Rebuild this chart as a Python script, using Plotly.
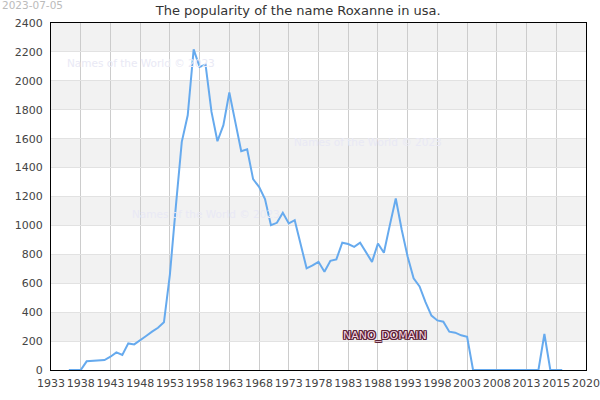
import plotly.graph_objects as go

years = list(range(1936, 2020))
values = [
    0, 0, 0, 60, 62, 64, 69, 92, 122, 104,          # 1936-1945
    184, 177, 203, 235, 265, 292, 330, 660, 1130, 1578,  # 1946-1955
    1762, 2218, 2096, 2112, 1785, 1582, 1693, 1919, 1716, 1513,  # 1956-1965
    1527, 1320, 1267, 1182, 1002, 1018, 1087, 1014, 1036, 870,  # 1966-1975
    703, 723, 748, 679, 755, 765, 880, 871, 852, 880,  # 1976-1985
    813, 748, 875, 811, 1002, 1186, 970, 783, 634, 578,  # 1986-1995
    470, 376, 343, 334, 265, 258, 240, 230, 0, 0,  # 1996-2005
    0, 0, 0, 0, 0, 0, 0, 0, 0, 0,  # 2006-2015
    249, 0, 0, 0,  # 2016-2019
]

x_tickvals = [1933, 1938, 1943, 1948, 1953, 1958, 1963, 1968, 1973, 1978,
              1983, 1988, 1993, 1998, 2003, 2008, 2013, 2018, 2023]
x_ticktext = ["1933", "1938", "1943", "1948", "1953", "1958", "1963", "1968", "1973", "1978",
              "1983", "1988", "1993", "1998", "2003", "2008", "2013", "2015", "2020"]
y_tickvals = list(range(0, 2401, 200))
band_ranges = [(200, 400), (600, 800), (1000, 1200), (1400, 1600), (1800, 2000), (2200, 2400)]

title_text = "The popularity of the name Roxanne in usa."
date_text = "2023-07-05"
watermark_text = "Names of the World © 2023"
domain_text = "NANO_DOMAIN"

FONT = "DejaVu Sans"

fig = go.Figure()
fig.add_trace(go.Scatter(
    x=years, y=values, mode="lines",
    line=dict(color="#66aaee", width=2),
    hoverinfo="skip", showlegend=False,
))

shapes = []
for lo, hi in band_ranges:
    shapes.append(dict(type="rect", xref="paper", yref="y", x0=0, x1=1, y0=lo, y1=hi,
                       fillcolor="#f2f2f2", line=dict(width=0), layer="below"))

annotations = []
for ax, ay in [(0.168, 0.885), (0.593, 0.657), (0.290, 0.450)]:
    annotations.append(dict(text=watermark_text, xref="paper", yref="paper", x=ax, y=ay,
                            xanchor="center", yanchor="middle", showarrow=False,
                            font=dict(family=FONT, size=10.5, color="#e9e9f5")))
annotations.append(dict(text=date_text, xref="paper", yref="paper", x=-0.0953, y=1.052,
                        xanchor="left", yanchor="middle", showarrow=False,
                        font=dict(family=FONT, size=10.5, color="#bbbbbb")))
outline = "#5a2034"
annotations.append(dict(text=domain_text, xref="paper", yref="paper", x=0.624, y=0.098,
                        xanchor="center", yanchor="middle", showarrow=False,
                        font=dict(family=FONT, size=11, color="#f3d6e2",
                                  shadow=f"1px 0 0 {outline}, -1px 0 0 {outline}, 0 1px 0 {outline}, 0 -1px 0 {outline}, 1px 1px 0 {outline}, -1px -1px 0 {outline}, 1px -1px 0 {outline}, -1px 1px 0 {outline}")))

fig.update_layout(
    width=600, height=400,
    margin=dict(l=51, r=14, t=23, b=30, pad=0, autoexpand=False),
    paper_bgcolor="white", plot_bgcolor="white",
    title=dict(text=title_text, x=0.497, xanchor="center", y=0.975, yanchor="middle",
               font=dict(family=FONT, size=13, color="#333333")),
    font=dict(family=FONT, size=11, color="#444444"),
    shapes=shapes, annotations=annotations,
    xaxis=dict(range=[1933, 2023], tickmode="array", tickvals=x_tickvals, ticktext=x_ticktext,
               automargin=False,
               showgrid=True, gridcolor="#cccccc", gridwidth=1, zeroline=False,
               showline=True, linecolor="black", linewidth=1, mirror=True,
               ticks="", tickangle=0, ticklabelstandoff=3,
               tickfont=dict(family=FONT, size=11, color="#444444")),
    yaxis=dict(range=[0, 2400], tickmode="array", tickvals=y_tickvals,
               automargin=False,
               showgrid=True, gridcolor="#e2e2e2", gridwidth=1, zeroline=False,
               showline=True, linecolor="black", linewidth=1, mirror=True,
               ticks="", ticklabelstandoff=5, tickfont=dict(family=FONT, size=11, color="#444444")),
)

fig.write_html("out.html")
